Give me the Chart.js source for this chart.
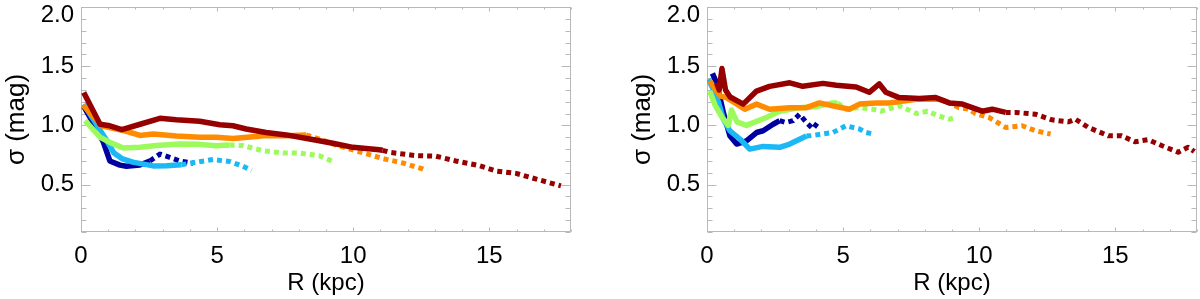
<!DOCTYPE html>
<html>
<head>
<meta charset="utf-8">
<script src="https://cdn.jsdelivr.net/npm/chart.js@4.4.0/dist/chart.umd.min.js"></script>
<style>
  html, body { margin: 0; padding: 0; background: #fff; }
  body { width: 1200px; height: 299px; position: relative; overflow: hidden; }
  .panel { position: absolute; top: 0; height: 299px; }
</style>
</head>
<body>
<div class="panel" style="left:0;width:626px"><canvas id="c1" width="626" height="299"></canvas></div>
<div class="panel" style="left:626px;width:574px"><canvas id="c2" width="574" height="299"></canvas></div>
<script>
// ---------- axes / ticks ----------
const xTicks = [0, 5, 10, 15];
const xTickLabels = ['0', '5', '10', '15'];
const yTicks = [0.5, 1.0, 1.5, 2.0];
const yTickLabels = ['0.5', '1.0', '1.5', '2.0'];
const xTitle = 'R (kpc)';
const yTitle = 'σ (mag)';

// ---------- colours ----------
const cDarkRed = '#960000';
const cOrange = '#ff8c00';
const cGreen = '#9cfa5c';
const cLightBlue = '#1cb8f5';
const cDarkBlue = '#0000a0';

// ---------- LEFT panel data ----------
const lRedR = [0.1, 0.7, 1.06, 1.5, 2.17, 2.9, 3.5, 4.36, 5.1, 5.58, 6.07, 6.8, 7.54, 8.4, 9.25, 9.99, 10.96, 11.08, 11.33, 12.3, 13.04, 13.77, 14.63, 15.24, 15.98, 16.83, 17.63];
const lRedS = [1.278, 1.01, 0.997, 0.965, 1.01, 1.06, 1.047, 1.035, 1.005, 0.997, 0.97, 0.94, 0.92, 0.885, 0.85, 0.815, 0.795, 0.79, 0.773, 0.745, 0.74, 0.70, 0.66, 0.615, 0.595, 0.54, 0.49];
const lRedSolidEnd = 11.08;

const lOrR = [0.08, 0.75, 1.6, 2.17, 2.65, 3.5, 4.36, 4.97, 5.58, 6.32, 6.8, 7.54, 8.27, 8.76, 9.37, 10.1, 10.5, 11.08, 11.82, 12.56, 12.7];
const lOrS = [1.17, 0.997, 0.955, 0.915, 0.927, 0.91, 0.9, 0.9, 0.89, 0.905, 0.915, 0.913, 0.92, 0.885, 0.834, 0.786, 0.76, 0.72, 0.683, 0.632, 0.618];
const lOrSolidEnd = 8.27;

const lGrR = [0.15, 0.7, 1.06, 1.55, 2.17, 2.77, 3.63, 4.36, 4.97, 5.46, 5.95, 6.68, 7.42, 8.03, 8.76, 9.31];
const lGrS = [1.04, 0.9, 0.857, 0.81, 0.815, 0.83, 0.843, 0.84, 0.828, 0.834, 0.83, 0.786, 0.767, 0.767, 0.744, 0.69];
const lGrSolidEnd = 5.46;

const lLbR = [0.1, 0.7, 0.95, 1.2, 1.5, 1.9, 2.65, 3.14, 3.69, 4.24, 4.85, 5.46, 5.95, 6.26];
const lLbS = [1.18, 0.96, 0.87, 0.77, 0.72, 0.69, 0.658, 0.66, 0.668, 0.69, 0.712, 0.695, 0.655, 0.62];
const lLbSolidEnd = 3.69;

const lDbR = [0.1, 0.5, 0.82, 1.06, 1.43, 1.67, 2.16, 2.53, 2.9, 3.26, 3.63, 4.12];
const lDbS = [1.16, 1.0, 0.86, 0.70, 0.665, 0.655, 0.666, 0.70, 0.758, 0.73, 0.70, 0.68];
const lDbSolidEnd = 2.53;

// ---------- RIGHT panel data ----------
const rRedR = [0.35, 0.45, 0.55, 0.68, 0.85, 1.33, 1.82, 2.3, 3.04, 3.52, 4.26, 4.75, 5.48, 5.96, 6.33, 6.57, 7.06, 7.8, 8.4, 8.9, 9.38, 10.11, 10.48, 10.97, 11.33, 12.06, 12.67, 13.28, 13.53, 14.01, 14.75, 15.23, 15.72, 16.21, 16.7, 17.31, 17.67, 17.9];
const rRedS = [1.36, 1.30, 1.48, 1.30, 1.24, 1.18, 1.29, 1.33, 1.36, 1.33, 1.355, 1.34, 1.325, 1.28, 1.35, 1.28, 1.235, 1.227, 1.235, 1.19, 1.18, 1.12, 1.137, 1.11, 1.11, 1.095, 1.047, 1.03, 1.053, 0.983, 0.912, 0.912, 0.862, 0.88, 0.83, 0.773, 0.815, 0.78];
const rRedSolidEnd = 10.97;

const rOrR = [0.1, 0.48, 0.72, 1.39, 1.82, 2.3, 3.04, 3.65, 4.13, 4.62, 5.23, 5.6, 6.21, 6.7, 7.68, 8.54, 8.8, 9.26, 9.63, 9.87, 10.36, 10.97, 11.58, 12.06, 12.62];
const rOrS = [1.375, 1.25, 1.235, 1.137, 1.18, 1.137, 1.15, 1.15, 1.19, 1.165, 1.137, 1.18, 1.19, 1.19, 1.22, 1.22, 1.2, 1.15, 1.137, 1.10, 1.067, 0.983, 0.997, 0.955, 0.927];
const rOrSolidEnd = 8.8;

const rGrR = [0.1, 0.3, 0.55, 0.78, 0.9, 1.1, 1.45, 2.18, 2.67, 3.4, 4.0, 4.62, 4.8, 5.11, 5.6, 6.09, 6.4, 7.06, 7.7, 8.1, 8.5, 8.9, 9.14];
const rGrS = [1.29, 1.17, 1.07, 1.0, 1.13, 1.03, 1.0, 1.067, 1.12, 1.15, 1.16, 1.19, 1.19, 1.137, 1.15, 1.137, 1.12, 1.165, 1.10, 1.12, 1.08, 1.053, 1.067];
const rGrSolidEnd = 4.8;

const rLbR = [0.05, 0.35, 0.6, 0.84, 1.21, 1.57, 2.06, 2.67, 3.04, 3.65, 3.89, 4.3, 4.62, 5.11, 5.6, 5.85, 6.09];
const rLbS = [1.39, 1.25, 1.053, 0.955, 0.885, 0.80, 0.823, 0.815, 0.843, 0.91, 0.915, 0.93, 0.94, 0.997, 0.97, 0.94, 0.927];
const rLbSolidEnd = 3.65;

const rDbR = [0.2, 0.35, 0.6, 0.84, 1.09, 1.45, 1.82, 2.06, 2.43, 2.67, 2.9, 3.16, 3.4, 3.65, 3.89, 4.07];
const rDbS = [1.44, 1.36, 1.11, 0.912, 0.843, 0.87, 0.94, 0.955, 1.01, 1.04, 1.025, 1.04, 1.095, 1.025, 0.97, 1.025];
const rDbSolidEnd = 2.67;

const leftSeries = [
  { R: lRedR, S: lRedS, end: lRedSolidEnd, color: cDarkRed },
  { R: lOrR, S: lOrS, end: lOrSolidEnd, color: cOrange },
  { R: lGrR, S: lGrS, end: lGrSolidEnd, color: cGreen },
  { R: lLbR, S: lLbS, end: lLbSolidEnd, color: cLightBlue },
  { R: lDbR, S: lDbS, end: lDbSolidEnd, color: cDarkBlue }
];
const rightSeries = [
  { R: rRedR, S: rRedS, end: rRedSolidEnd, color: cDarkRed },
  { R: rOrR, S: rOrS, end: rOrSolidEnd, color: cOrange },
  { R: rGrR, S: rGrS, end: rGrSolidEnd, color: cGreen },
  { R: rLbR, S: rLbS, end: rLbSolidEnd, color: cLightBlue },
  { R: rDbR, S: rDbS, end: rDbSolidEnd, color: cDarkBlue }
];

const FONT = "'Liberation Sans', Arial, Helvetica, sans-serif";
const AXIS_COLOR = '#b8b8b8';

const framePlugin = {
  id: 'frame',
  beforeDatasetsDraw(chart) {
    const { ctx, chartArea: a, scales: { x, y } } = chart;
    ctx.save();
    ctx.strokeStyle = AXIS_COLOR;
    ctx.lineWidth = 1;
    const L = Math.round(a.left) + 0.5, R = Math.round(a.right) - 0.5;
    const T = Math.round(a.top) + 0.5, B = Math.round(a.bottom) - 0.5;
    ctx.strokeRect(L, T, R - L, B - T);
    ctx.beginPath();
    // y ticks (every 0.1, major every 0.5)
    for (let k = 1; k <= 20; k++) {
      const v = k / 10;
      const py = Math.round(y.getPixelForValue(v)) + 0.5;
      const major = (k % 5 === 0);
      const len = major ? 9 : 5;
      ctx.moveTo(L, py); ctx.lineTo(L + len, py);
      ctx.moveTo(R, py); ctx.lineTo(R - len, py);
    }
    // x ticks (every 1, major every 5)
    for (let k = 0; k <= 18; k++) {
      const px = Math.round(x.getPixelForValue(k)) + 0.5;
      const major = (k % 5 === 0);
      const len = major ? 4 : 2;
      ctx.moveTo(px, B); ctx.lineTo(px, B - len);
      ctx.moveTo(px, T); ctx.lineTo(px, T + len);
    }
    ctx.stroke();
    ctx.restore();
  }
};

function makeChart(id, series, padRight) {
  const datasets = series.map(s => ({
    data: s.R.map((r, i) => ({ x: r, y: s.S[i] })),
    borderColor: s.color,
    backgroundColor: s.color,
    borderWidth: 5.5,
    pointRadius: 0,
    tension: 0,
    fill: false,
    borderCapStyle: 'butt',
    borderJoinStyle: 'round',
    segment: {
      borderDash: c => (c.p0.parsed.x >= s.end - 1e-9 ? [5, 4] : undefined),
      borderWidth: c => (c.p0.parsed.x >= s.end - 1e-9 ? 5 : undefined)
    }
  }));
  return new Chart(document.getElementById(id), {
    type: 'line',
    data: { datasets },
    options: {
      responsive: false,
      animation: false,
      events: [],
      layout: { padding: { left: 0, top: 7, right: padRight, bottom: 0 } },
      plugins: { legend: { display: false }, tooltip: { enabled: false } },
      scales: {
        x: {
          type: 'linear', min: 0, max: 18,
          afterBuildTicks: sc => { sc.ticks = xTicks.map(v => ({ value: v })); },
          afterFit: sc => { sc.height = 67; sc.paddingLeft = 0; sc.paddingRight = 0; sc.paddingTop = 0; sc.paddingBottom = 0; },
          grid: { display: false, drawTicks: false },
          border: { display: false },
          ticks: {
            autoSkip: false, maxRotation: 0, minRotation: 0,
            padding: 12, color: '#000',
            font: { family: FONT, size: 24, lineHeight: 1 },
            callback: v => xTickLabels[xTicks.indexOf(v)]
          },
          title: {
            display: true, text: xTitle, color: '#000',
            font: { family: FONT, size: 24, lineHeight: 1 },
            padding: { top: 0, bottom: 4 }
          }
        },
        y: {
          type: 'linear', min: 0.1, max: 2.0,
          afterBuildTicks: sc => { sc.ticks = yTicks.map(v => ({ value: v })); },
          afterFit: sc => { sc.width = 81; sc.paddingLeft = 0; sc.paddingRight = 0; sc.paddingTop = 0; sc.paddingBottom = 0; },
          grid: { display: false, drawTicks: false },
          border: { display: false },
          ticks: {
            autoSkip: false, padding: 7, color: '#000',
            font: { family: FONT, size: 24, lineHeight: '16px' },
            callback: v => {
              const lab = yTickLabels[yTicks.indexOf(v)];
              return v === 2.0 ? ['', lab] : lab;
            }
          },
          title: {
            display: true, text: yTitle, color: '#000',
            font: { family: FONT, size: 26, lineHeight: 1 },
            padding: { top: 4, bottom: 0 }
          }
        }
      }
    },
    plugins: [framePlugin]
  });
}

makeChart('c1', leftSeries, 55);
makeChart('c2', rightSeries, 3);
</script>
</body>
</html>
